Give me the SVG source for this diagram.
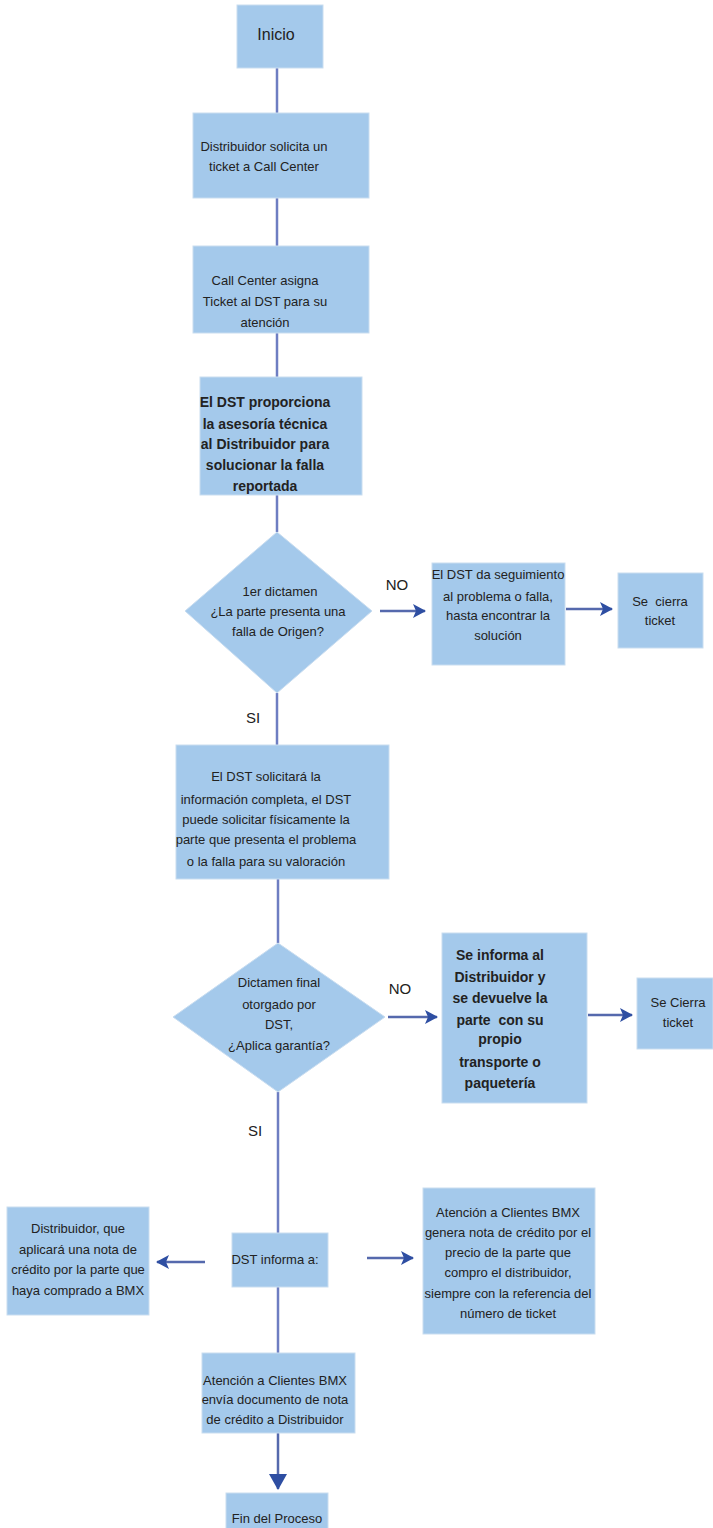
<svg xmlns="http://www.w3.org/2000/svg" width="713" height="1528" viewBox="0 0 713 1528">
<style>
.box{fill:#A4C9EB;stroke:#C9DDF0;stroke-width:1}
.t{font-family:"Liberation Sans",Arial,sans-serif;font-size:13px;fill:#222;text-anchor:middle}
.b{font-weight:bold;font-size:14px}
.lbl{font-family:"Liberation Sans",Arial,sans-serif;font-size:15px;fill:#222;text-anchor:middle}
.ln{stroke:#6E7EC2;stroke-width:2.5;fill:none}
.ar{stroke:#5569AD;stroke-width:2.5;fill:none}
</style>
<defs>
<marker id="ah" markerUnits="userSpaceOnUse" markerWidth="14" markerHeight="14" refX="12" refY="7" orient="auto">
<path d="M0,0 L13,7 L0,14 L3,7 Z" fill="#2E4EA2"/>
</marker>
<marker id="ahb" markerUnits="userSpaceOnUse" markerWidth="18" markerHeight="18" refX="15" refY="9" orient="auto">
<path d="M0,0 L16,9 L0,18 Z" fill="#2E4EA2"/>
</marker>
</defs>
<g id="connectors">
<line class="ln" x1="277" y1="68" x2="277" y2="113"/>
<line class="ln" x1="277" y1="198" x2="277" y2="246"/>
<line class="ln" x1="277" y1="333" x2="277" y2="377"/>
<line class="ln" x1="277" y1="495" x2="277" y2="532"/>
<line class="ln" x1="277" y1="693" x2="277" y2="745"/>
<line class="ln" x1="278" y1="879" x2="278" y2="943"/>
<line class="ln" x1="278" y1="1092" x2="278" y2="1233"/>
<line class="ln" x1="278" y1="1287" x2="278" y2="1353"/>
<line class="ar" x1="278" y1="1433" x2="278" y2="1489" marker-end="url(#ahb)"/>
<line class="ar" x1="380" y1="611" x2="425" y2="611" marker-end="url(#ah)"/>
<line class="ar" x1="566" y1="609" x2="612" y2="609" marker-end="url(#ah)"/>
<line class="ar" x1="388" y1="1017" x2="437" y2="1017" marker-end="url(#ah)"/>
<line class="ar" x1="588" y1="1015" x2="632" y2="1015" marker-end="url(#ah)"/>
<line class="ar" x1="205" y1="1262" x2="157" y2="1262" marker-end="url(#ah)"/>
<line class="ar" x1="367" y1="1258" x2="413" y2="1258" marker-end="url(#ah)"/>
<text class="lbl" x="397" y="590">NO</text>
<text class="lbl" x="253" y="723">SI</text>
<text class="lbl" x="400" y="994">NO</text>
<text class="lbl" x="255" y="1136">SI</text>
</g>
<g id="inicio">
<rect class="box" x="237" y="5" width="86" height="63"/>
<text class="t" x="276" y="40" style="font-size:16px">Inicio</text>
</g>
<g id="solicita">
<rect class="box" x="193" y="113" width="176" height="85"/>
<text class="t" x="264" y="151">Distribuidor solicita un</text>
<text class="t" x="264" y="171">ticket a Call Center</text>
</g>
<g id="asigna">
<rect class="box" x="193" y="246" width="176" height="87"/>
<text class="t" x="265" y="285">Call Center asigna</text>
<text class="t" x="265" y="306">Ticket al DST para su</text>
<text class="t" x="265" y="327">atención</text>
</g>
<g id="asesoria">
<rect class="box" x="200" y="377" width="162" height="118"/>
<text class="t b" x="265" y="407">El DST proporciona</text>
<text class="t b" x="265" y="429">la asesoría técnica</text>
<text class="t b" x="265" y="449">al Distribuidor para</text>
<text class="t b" x="265" y="470">solucionar la falla</text>
<text class="t b" x="265" y="491">reportada</text>
</g>
<g id="dictamen1">
<polygon class="box" points="277,532 372,611 277,693 185,611"/>
<text class="t" x="280" y="596">1er dictamen</text>
<text class="t" x="278" y="616">¿La parte presenta una</text>
<text class="t" x="278" y="636">falla de Origen?</text>
</g>
<g id="seguimiento">
<rect class="box" x="432" y="563" width="133" height="102"/>
<text class="t" x="498" y="579">El DST da seguimiento</text>
<text class="t" x="498" y="601">al problema o falla,</text>
<text class="t" x="498" y="620">hasta encontrar la</text>
<text class="t" x="498" y="640">solución</text>
</g>
<g id="cierra1">
<rect class="box" x="618" y="573" width="85" height="75"/>
<text class="t" x="660" y="606" xml:space="preserve">Se  cierra</text>
<text class="t" x="660" y="625">ticket</text>
</g>
<g id="solicitara">
<rect class="box" x="176" y="745" width="213" height="134"/>
<text class="t" x="266" y="781">El DST solicitará la</text>
<text class="t" x="266" y="804">información completa, el DST</text>
<text class="t" x="266" y="824">puede solicitar físicamente la</text>
<text class="t" x="266" y="844">parte que presenta el problema</text>
<text class="t" x="266" y="866">o la falla para su valoración</text>
</g>
<g id="dictamen2">
<polygon class="box" points="278,943 385,1017 278,1092 173,1017"/>
<text class="t" x="279" y="987">Dictamen final</text>
<text class="t" x="279" y="1009">otorgado por</text>
<text class="t" x="279" y="1029">DST,</text>
<text class="t" x="279" y="1050">¿Aplica garantía?</text>
</g>
<g id="devuelve">
<rect class="box" x="442" y="933" width="145" height="170"/>
<text class="t b" x="500" y="960">Se informa al</text>
<text class="t b" x="500" y="982">Distribuidor y</text>
<text class="t b" x="500" y="1003">se devuelve la</text>
<text class="t b" x="500" y="1025" xml:space="preserve">parte  con su</text>
<text class="t b" x="500" y="1044">propio</text>
<text class="t b" x="500" y="1067">transporte o</text>
<text class="t b" x="500" y="1088">paquetería</text>
</g>
<g id="cierra2">
<rect class="box" x="637" y="978" width="76" height="71"/>
<text class="t" x="678" y="1007">Se Cierra</text>
<text class="t" x="678" y="1027">ticket</text>
</g>
<g id="informa">
<rect class="box" x="232" y="1233" width="96" height="54"/>
<text class="t" x="275" y="1264">DST informa a:</text>
</g>
<g id="distribuidor">
<rect class="box" x="7" y="1207" width="142" height="108"/>
<text class="t" x="78" y="1233">Distribuidor, que</text>
<text class="t" x="78" y="1254">aplicará una nota de</text>
<text class="t" x="78" y="1274">crédito por la parte que</text>
<text class="t" x="78" y="1295">haya comprado a BMX</text>
</g>
<g id="genera">
<rect class="box" x="423" y="1188" width="172" height="146"/>
<text class="t" x="508" y="1217">Atención a Clientes BMX</text>
<text class="t" x="508" y="1237">genera nota de crédito por el</text>
<text class="t" x="508" y="1257">precio de la parte que</text>
<text class="t" x="508" y="1277">compro el distribuidor,</text>
<text class="t" x="508" y="1298">siempre con la referencia del</text>
<text class="t" x="508" y="1318">número de ticket</text>
</g>
<g id="envia">
<rect class="box" x="202" y="1353" width="153" height="80"/>
<text class="t" x="275" y="1385">Atención a Clientes BMX</text>
<text class="t" x="275" y="1404">envía documento de nota</text>
<text class="t" x="275" y="1424">de crédito a Distribuidor</text>
</g>
<g id="fin">
<rect class="box" x="226" y="1493" width="102" height="40"/>
<text class="t" x="277" y="1523">Fin del Proceso</text>
</g>
</svg>
